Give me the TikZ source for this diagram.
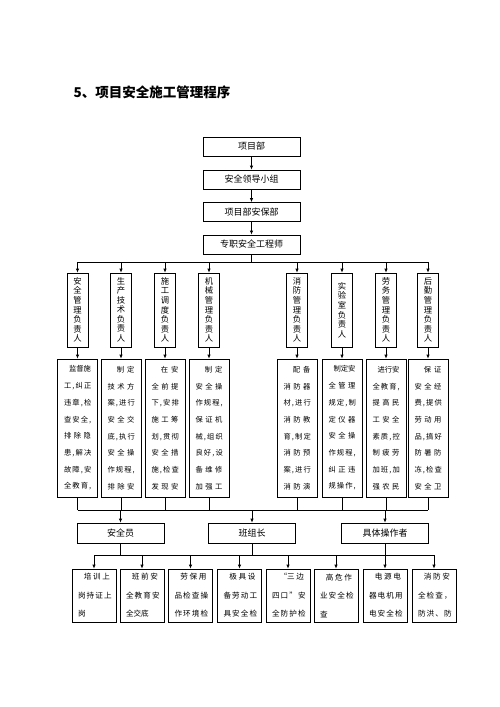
\documentclass[tikz,border=0pt]{standalone}
\usepackage{fontspec}
\setmainfont{Noto Sans CJK SC}
\usetikzlibrary{arrows.meta}
\newcommand\fl[1]{\makebox[27pt][r]{#1}}
\newcommand\jl[1]{\makebox[27pt][s]{#1}}
\newcommand\bfl[1]{\makebox[32pt][r]{#1}}
\newcommand\bjl[1]{\makebox[32pt][s]{#1}}
\newcommand\bll[1]{\makebox[32pt][l]{#1}}
\begin{document}
\begin{tikzpicture}[x=1pt,y=-1pt,
  box/.style={draw, line width=0.7pt, inner sep=0pt, align=center},
  topbox/.style={box, minimum width=97pt, minimum height=19pt, font=\fontsize{9}{10}\selectfont},
  rolebox/.style={box, minimum width=21pt, minimum height=74pt, font=\fontsize{8.3}{9.6}\selectfont},
  descbox/.style={box, minimum width=40pt, minimum height=138pt, font=\fontsize{7.3}{16.7}\selectfont},
  midbox/.style={box, minimum width=87pt, minimum height=20pt, font=\fontsize{9}{10}\selectfont},
  botbox/.style={box, minimum width=44pt, minimum height=53pt, font=\fontsize{7.6}{18.5}\selectfont},
  arr/.style={-{Latex[length=4pt,width=3.5pt]}, line width=0.7pt},
  ln/.style={line width=0.7pt}]
\useasboundingbox (0,0) rectangle (500,707);

\node[anchor=west, font=\fontsize{13.5}{14}\selectfont\bfseries] (title) at (70,92) {5、项目安全施工管理程序};

% top chain
\node[topbox] (t1) at (251.5,146.5) {项目部};
\node[topbox] (t2) at (251.5,179.5) {安全领导小组};
\node[topbox] (t3) at (251.5,212) {项目部安保部};
\node[topbox] (t4) at (251.5,244.5) {专职安全工程师};
\draw[arr] (t1) -- (t2);
\draw[arr] (t2) -- (t3);
\draw[arr] (t3) -- (t4);

% role boxes
\node[rolebox] (r1) at (77.5,310) {安\\全\\管\\理\\负\\责\\人};
\node[rolebox] (r2) at (121,310) {生\\[-1pt]产\\技\\术\\负\\责\\人};
\node[rolebox] (r3) at (165,310) {施\\工\\调\\度\\负\\责\\人};
\node[rolebox] (r4) at (209,310) {机\\械\\管\\理\\负\\责\\人};
\node[rolebox] (r5) at (297,310) {消\\防\\管\\理\\负\\责\\人};
\node[rolebox] (r6) at (342,310) {实\\验\\室\\负\\责\\人};
\node[rolebox] (r7) at (386,310) {劳\\务\\管\\理\\负\\责\\人};
\node[rolebox] (r8) at (428,310) {后\\勤\\管\\理\\负\\责\\人};

\coordinate (busA) at (0,262);
\draw[ln] (t4.south) -- (t4.south |- busA);
\draw[ln] (r1.north |- busA) -- (r8.north |- busA);
\foreach \i in {1,...,8} {\draw[arr] (r\i.north |- busA) -- (r\i.north);}

% description boxes
\node[descbox] (d1) at (77.5,428) {\fl{监督施}\\ \jl{工 , 纠 正}\\ \jl{违 章 , 检}\\ \jl{查 安 全 ,}\\ \jl{排 除 隐}\\ \jl{患 , 解 决}\\ \jl{故 障 , 安}\\ \jl{全 教 育 ,}};
\node[descbox] (d2) at (121,428) {\fl{制\hspace{3pt}定}\\ \jl{技 术 方}\\ \jl{案 , 进 行}\\ \jl{安 全 交}\\ \jl{底 , 执 行}\\ \jl{安 全 操}\\ \jl{作 规 程 ,}\\ \jl{排 除 安}};
\node[descbox] (d3) at (165,428) {\fl{在\hspace{3pt}安}\\ \jl{全 前 提}\\ \jl{下 , 安 排}\\ \jl{施 工 筹}\\ \jl{划 , 贯 彻}\\ \jl{安 全 措}\\ \jl{施 , 检 查}\\ \jl{发 现 安}};
\node[descbox] (d4) at (209,428) {\fl{制\hspace{3pt}定}\\ \jl{安 全 操}\\ \jl{作 规 程 ,}\\ \jl{保 证 机}\\ \jl{械 , 组 织}\\ \jl{良 好 , 设}\\ \jl{备 维 修}\\ \jl{加 强 工}};
\node[descbox] (d5) at (297,428) {\fl{配\hspace{3pt}备}\\ \jl{消 防 器}\\ \jl{材 , 进 行}\\ \jl{消 防 教}\\ \jl{育 , 制 定}\\ \jl{消 防 预}\\ \jl{案 , 进 行}\\ \jl{消 防 演}};
\node[descbox] (d6) at (342,428) {\fl{制定安}\\ \jl{全 管 理}\\ \jl{规 定 , 制}\\ \jl{定 仪 器}\\ \jl{安 全 操}\\ \jl{作 规 程 ,}\\ \jl{纠 正 违}\\ \jl{规 操 作 ,}};
\node[descbox] (d7) at (386,428) {\fl{进行安}\\ \jl{全 教 育 ,}\\ \jl{提 高 民}\\ \jl{工 安 全}\\ \jl{素 质 , 控}\\ \jl{制 疲 劳}\\ \jl{加 班 , 加}\\ \jl{强 农 民}};
\node[descbox] (d8) at (428,428) {\fl{保\hspace{3pt}证}\\ \jl{安 全 经}\\ \jl{费 , 提 供}\\ \jl{劳 动 用}\\ \jl{品 , 搞 好}\\ \jl{防 暑 防}\\ \jl{冻 , 检 查}\\ \jl{安 全 卫}};
\foreach \i in {1,...,8} {\draw[arr] (r\i.south) -- (d\i.north);}

\coordinate (busB) at (0,510);
\foreach \i in {1,...,8} {\draw[ln] (d\i.south) -- (d\i.south |- busB);}
\draw[ln] (d1.south |- busB) -- (d8.south |- busB);

% middle boxes
\node[midbox] (m1) at (120.5,533) {安全员};
\node[midbox] (m2) at (252,533) {班组长};
\node[midbox] (m3) at (385,533) {具体操作者};
\foreach \i in {1,2,3} {\draw[arr] (m\i.north |- busB) -- (m\i.north);}

% bottom boxes
\node[botbox] (b1) at (94,595.5) {\bfl{培 训 上}\\ \bjl{岗 持 证 上}\\ \bll{岗}};
\node[botbox] (b2) at (142,595.5) {\bfl{班 前 安}\\ \bjl{全 教 育 安}\\ \bll{全交底}};
\node[botbox] (b3) at (190.5,595.5) {\bfl{劳 保 用}\\ \bjl{品 检 查 操}\\ \bjl{作 环 境 检}};
\node[botbox] (b4) at (239.5,595.5) {\bfl{极 具 设}\\ \bjl{备 劳 动 工}\\ \bjl{具 安 全 检}};
\node[botbox] (b5) at (288,595.5) {\bfl{“三 边}\\ \bjl{四 口 ” 安}\\ \bjl{全 防 护 检}};
\node[botbox] (b6) at (336,595.5) {\bfl{高 危 作}\\ \bjl{业 安 全 检}\\ \bll{查}};
\node[botbox] (b7) at (385,595.5) {\bfl{电 源 电}\\ \bjl{器 电 机 用}\\ \bjl{电 安 全 检}};
\node[botbox] (b8) at (434,595.5) {\bfl{消 防 安}\\ \bjl{全 检 查 ，}\\ \bjl{防 洪 、 防}};

\coordinate (busC) at (0,555);
\foreach \i in {1,2,3} {\draw[ln] (m\i.south) -- (m\i.south |- busC);}
\draw[ln] (b1.north |- busC) -- (b8.north |- busC);
\foreach \i in {1,...,8} {\draw[arr] (b\i.north |- busC) -- (b\i.north);}
\end{tikzpicture}
\end{document}
